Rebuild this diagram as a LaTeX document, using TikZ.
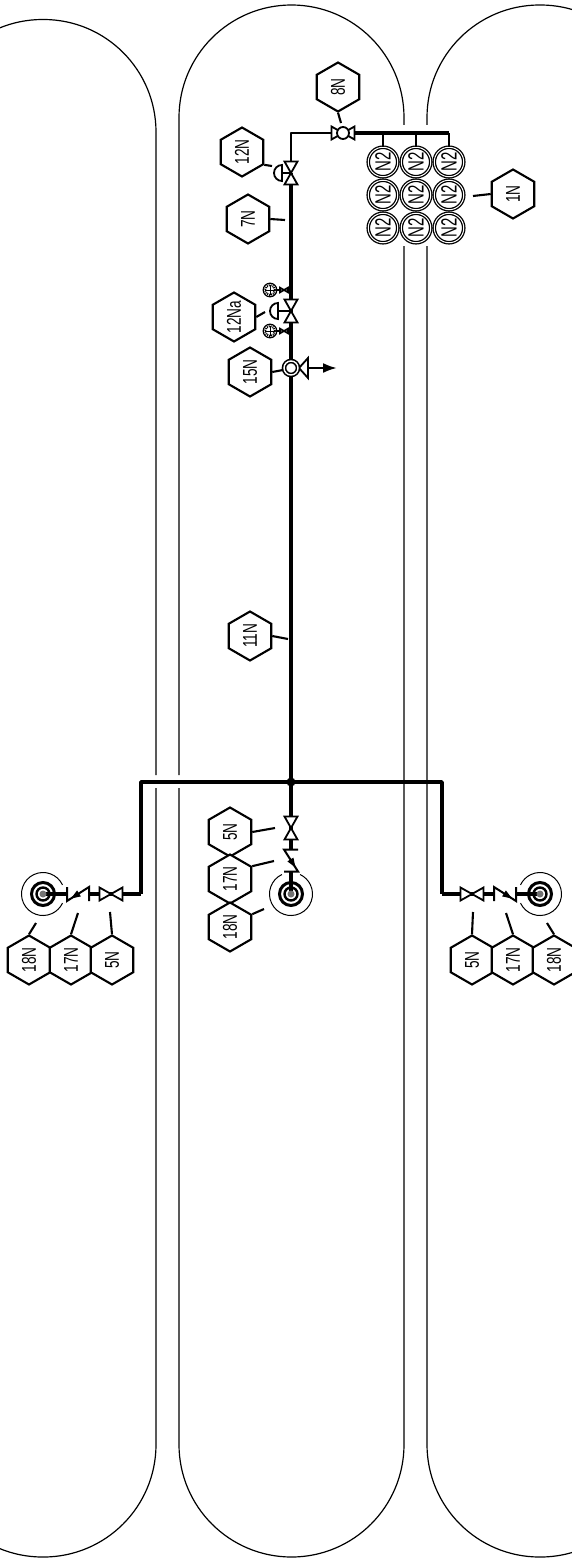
\documentclass[tikz,border=0pt]{standalone}
\usepackage{fontspec}
\setmainfont{Liberation Sans}
\usetikzlibrary{shapes.geometric}
\usetikzlibrary{arrows.meta}
\newcommand{\uptext}[1]{\rotatebox{90}{\scalebox{0.68}[1]{\makebox[0pt]{#1}}}}

\begin{document}
\begin{tikzpicture}[
x=1pt, y=1pt,
hexnode/.style={regular polygon, regular polygon sides=6, regular polygon rotate=30, draw, fill=white, line width=2.1pt, minimum size=49pt, inner sep=0pt, font=\fontsize{20}{20}\selectfont},
bottlenode/.style={circle, draw, double, line width=1.3pt, double distance=1pt, minimum size=29.5pt, inner sep=0pt, font=\fontsize{22}{22}\selectfont},
tank/.style={line width=1.2pt, rounded corners=112.5pt},
pipe/.style={line width=3.6pt, line join=round},
lead/.style={line width=2.1pt},
coredot/.style={circle, fill=black!55, minimum size=7pt, inner sep=0pt},
bowtie/.pic={\draw[line width=1.8pt, fill=white] (-11.5,-6.5) -- (11.5,6.5) -- (11.5,-6.5) -- (-11.5,6.5) -- cycle;},
checkvalve/.pic={
  \draw[line width=2pt] (-11,-7) -- (-11,7) -- (11,-7) -- (11,7);
  \fill (7,-4.5) -- (-2.9,-2.4) -- (0.9,3.6) -- cycle;
},
target/.pic={
  \draw[line width=1pt] (25:21.5) arc[start angle=25, end angle=335, radius=21.5];
  \draw[line width=3pt] (0,0) circle (11.5);
  \draw[line width=2.4pt] (0,0) circle (6.5);
},
gauge/.pic={
  \draw[line width=1.2pt, fill=white] (0,0) circle (6.8);
  \draw[line width=2pt, dash pattern=on 1pt off 1pt] (0,0) circle (5);
  \draw[line width=1pt] (-5,0) -- (5,0) (0,5) -- (0,-5);
},
]
\clip (0,0) rectangle (572,-1560);

%Tanks
\draw[tank] (156,-775) -- (156,-19.5) -- (-70,-19.5) -- (-70,-300);
\draw[tank] (156,-788) -- (156,-1557) -- (-70,-1557) -- (-70,-1200);
\draw[tank] (404,-125) -- (404,-5) -- (179,-5) -- (179,-775);
\draw[tank] (179,-788) -- (179,-1557) -- (404,-1557) -- (404,-246);
\draw[tank] (427,-125) -- (427,-5) -- (653,-5) -- (653,-300);
\draw[tank] (427,-246) -- (427,-1557) -- (653,-1557) -- (653,-1200);

%Nodes
\node[hexnode] (hx8)   at (338,-87)  {\uptext{8N}};
\node[hexnode] (hx12)  at (242,-152) {\uptext{12N}};
\node[hexnode] (hx7)   at (248,-219) {\uptext{7N}};
\node[hexnode] (hx1)   at (513,-194) {\uptext{1N}};
\node[hexnode] (hx12a) at (234,-317) {\uptext{12Na}};
\node[hexnode] (hx15)  at (250,-372) {\uptext{15N}};
\node[hexnode] (hx11)  at (250,-636) {\uptext{11N}};

\node[hexnode] (hxm5)  at (230,-832) {\uptext{5N}};
\node[hexnode] (hxm17) at (230,-879) {\uptext{17N}};
\node[hexnode] (hxm18) at (230,-927) {\uptext{18N}};

\node[hexnode] (hxl18) at (29,-960)  {\uptext{18N}};
\node[hexnode] (hxl17) at (71,-960)  {\uptext{17N}};
\node[hexnode] (hxl5)  at (112,-960) {\uptext{5N}};

\node[hexnode] (hxr5)  at (472,-960) {\uptext{5N}};
\node[hexnode] (hxr17) at (513,-960) {\uptext{17N}};
\node[hexnode] (hxr18) at (554,-960) {\uptext{18N}};

\foreach \col/\x in {1/383, 2/416, 3/449} {
  \foreach \row/\y in {1/162, 2/195, 3/228} {
    \node[bottlenode] (n2-\col-\row) at (\x,-\y) {\uptext{N2}};
  }
}

%Points
\coordinate (corner)  at (291,-133);
\coordinate (hdr1)    at (383,-133);
\coordinate (hdr2)    at (416,-133);
\coordinate (hdr3)    at (449,-133);
\coordinate (v8)      at (343,-133);
\coordinate (v12)     at (291,-173);
\coordinate (v12a)    at (291,-311);
\coordinate (v15)     at (291,-368);
\coordinate (tee)     at (291,-782);
\coordinate (vm5)     at (291,-828);
\coordinate (cm)      at (291,-860.5);
\coordinate (bendl1)  at (141,-782);
\coordinate (bendl2)  at (141,-894);
\coordinate (vl5)     at (111,-894);
\coordinate (cl)      at (78,-894);
\coordinate (bendr1)  at (442,-782);
\coordinate (bendr2)  at (442,-894);
\coordinate (vr5)     at (472,-894);
\coordinate (cr)      at (505,-894);
\coordinate (g1)      at (270,-290);
\coordinate (g2)      at (270,-331);
\coordinate (arrowend) at (337,-368);

%Targets
\pic at (43,-894) {target};
\pic[rotate=90] at (291,-894) {target};
\pic[rotate=180] at (540,-894) {target};

%Lines
\draw[pipe, line width=2.8pt] (v8) -- (corner) -- (v12);
\draw[pipe] (v8) -- (hdr3);
\draw[pipe] (v12) -- (tee);
\draw[pipe] (bendl2) -- (bendl1) -- (bendr1) -- (bendr2);
\draw[pipe] (tee) -- (291,-849.5);
\draw[pipe] (bendl2) -- (89,-894);
\draw[pipe] (bendr2) -- (494,-894);
\draw[pipe] (67,-894) -- (43,-894);
\draw[pipe] (291,-871.5) -- (291,-894);
\draw[pipe] (516,-894) -- (540,-894);
\draw[line width=2.2pt] (hdr1) -- (n2-1-1);
\draw[line width=2.2pt] (hdr2) -- (n2-2-1);
\draw[line width=2.2pt] (hdr3) -- (n2-3-1);
\draw[line width=1.4pt] (g1) -- (v12a |- g1);
\draw[line width=1.4pt] (g2) -- (v12a |- g2);

\fill (tee) circle (4.5);
\node[coredot] (tgl) at (43,-894) {};
\node[coredot] (tgm) at (291,-894) {};
\node[coredot] (tgr) at (540,-894) {};

%Valves
\pic at (v8) {bowtie};
\node[circle, draw, fill=white, line width=1.8pt, minimum size=12pt, inner sep=0pt] (ball8) at (v8) {};
\pic[rotate=90] at (v12) {bowtie};
\pic[rotate=90] at (v12a) {bowtie};
\pic[rotate=90] at (vm5) {bowtie};
\pic at (vl5) {bowtie};
\pic at (vr5) {bowtie};
\pic[xscale=-1] at (cl) {checkvalve};
\pic at (cr) {checkvalve};
\pic[rotate=-90, yscale=-1] at (cm) {checkvalve};

\draw[line width=2pt] (v12) -- (282,-173);
\draw[line width=1.8pt, fill=white] (282,-165) arc[start angle=90, end angle=270, radius=8] -- cycle;
\draw[line width=2pt] (v12a) -- (278,-311);
\draw[line width=1.8pt, fill=white] (278,-303) arc[start angle=90, end angle=270, radius=8] -- cycle;

\pic at (g1) {gauge};
\pic at (g2) {gauge};
\pic[scale=0.35] at (284,-290) {bowtie};
\pic[scale=0.35] at (284,-331) {bowtie};

\draw[line width=1.8pt, fill=white] (299,-368) -- (308,-358) -- (308,-378) -- cycle;
\draw[line width=2.4pt, -{Latex[length=14pt,width=10pt]}] (308,-368) -- (arrowend);
\node[circle, draw, double, fill=white, line width=1.6pt, double distance=1.4pt, minimum size=14pt, inner sep=0pt] (ball15) at (v15) {};

%Leaders
\draw[lead] (hx8.south) -- (341,-123);
\draw[lead] (hx12.-30) -- (272,-166);
\draw[lead] (hx7.east) -- (285,-220);
\draw[lead] (hx1.west) -- (473,-196);
\draw[lead] (hx12a.east) -- (265,-312);
\draw[lead] (hx15.east) -- (283,-370);
\draw[lead] (hx11.east) -- (288,-639);
\draw[lead] (hxm5.east) -- (275,-828);
\draw[lead] (hxm17.30) -- (274,-861);
\draw[lead] (hxm18.30) -- (264,-909);
\draw[lead] (hxl18.north) -- (36,-923);
\draw[lead] (hxl17.north) -- (78,-913);
\draw[lead] (hxl5.north) -- (110,-912);
\draw[lead] (hxr5.north) -- (473,-912);
\draw[lead] (hxr17.north) -- (506,-913);
\draw[lead] (hxr18.north) -- (547,-923);
\end{tikzpicture}
\end{document}
